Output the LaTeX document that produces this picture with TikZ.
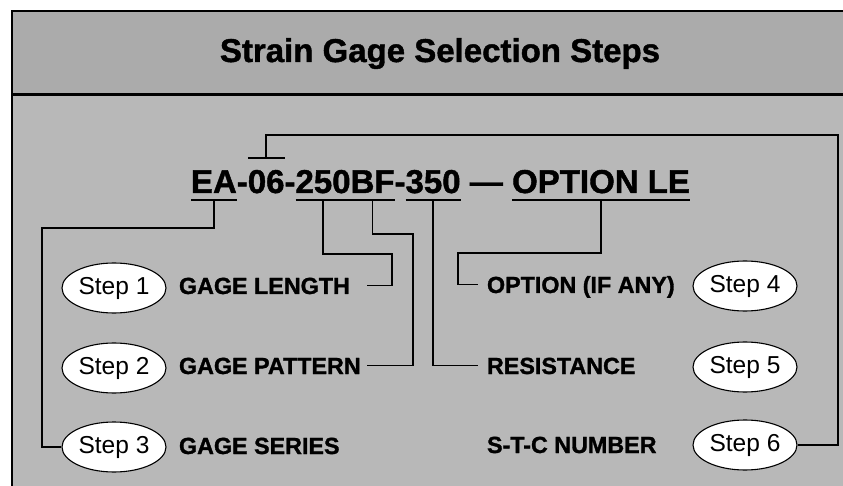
\documentclass[tikz,border=0pt]{standalone}
\usepackage{fontspec}
\setmainfont{Liberation Sans}
\newfontfamily\heavyfont{Liberation Sans}[BoldFeatures={FakeBold=1.3}]
\usetikzlibrary{shapes.geometric}
\definecolor{hdr}{HTML}{ABABAB}
\definecolor{bdy}{HTML}{B8B8B8}
\begin{document}
\begin{tikzpicture}[x=1pt,y=-1pt,
  codeseg/.style={font=\heavyfont\fontsize{33}{38}\selectfont\bfseries, inner sep=0pt, outer sep=0pt, anchor=base west},
  lbl/.style={font=\heavyfont\fontsize{23.3}{28}\selectfont\bfseries, inner sep=0pt, outer sep=0pt, anchor=base west},
  stepbox/.style={ellipse, draw, fill=white, line width=1.1pt, minimum width=104pt, minimum height=50pt, inner sep=0pt, font=\fontsize{24.5}{28}\selectfont},
  conn/.style={line width=1.8pt},
  uline/.style={line width=2.5pt}]
\useasboundingbox (0,0) rectangle (843,486);
\clip (0,0) rectangle (843,486);
\fill[white] (0,0) rectangle (843,486);
\fill[bdy] (12,11) rectangle (860,500);
\fill[hdr] (12,11) rectangle (860,95);
\draw[line width=2pt] (12,500) -- (12,11) -- (860,11);
\draw[line width=3pt] (12,95) -- (860,95);
\node[font=\heavyfont\fontsize{33}{40}\selectfont\bfseries, inner sep=0pt, anchor=base] (title) at (440,62) {Strain Gage Selection Steps};

% code string
\node[codeseg] (ea) at (191,193) {EA};
\node[codeseg] (h1) at (ea.base east) {-};
\node[codeseg] (o6) at (h1.base east) {06};
\node[codeseg] (h2) at (o6.base east) {-};
\node[codeseg] (n250) at (h2.base east) {250};
\node[codeseg] (bf) at (n250.base east) {BF};
\node[codeseg] (h3) at (bf.base east) {-};
\node[codeseg] (n350) at (h3.base east) {350};
\node[codeseg] (dash) at (n350.base east) {\kern.28em—\kern.28em};
\node[codeseg] (opt) at (dash.base east) {OPTION LE};

% underlines / overline
\foreach \n in {ea,n250,bf,n350,opt}{
  \draw[uline] ([yshift=-7pt]\n.base west) -- ([yshift=-7pt]\n.base east);
  \coordinate (u\n) at ([yshift=-7pt]\n.base);
}
\draw[uline] ([yshift=35pt]o6.base west) -- ([yshift=35pt]o6.base east);
\coordinate (uo6) at ([yshift=35pt]o6.base);

% labels
\node[lbl] (len) at (179,294) {GAGE LENGTH};
\node[lbl] (pat) at (179,374) {GAGE PATTERN};
\node[lbl] (ser) at (179,454) {GAGE SERIES};
\node[lbl] (opn) at (487,293) {OPTION (IF ANY)};
\node[lbl] (res) at (487,374) {RESISTANCE};
\node[lbl] (stc) at (487,453) {S-T-C NUMBER};

% steps
\node[stepbox] (s1) at (114,288) {Step 1};
\node[stepbox] (s2) at (114,368) {Step 2};
\node[stepbox] (s3) at (114,447) {Step 3};
\node[stepbox] (s4) at (745,286) {Step 4};
\node[stepbox] (s5) at (745,367) {Step 5};
\node[stepbox] (s6) at (745,445) {Step 6};

% connector ends near labels
\coordinate (cl1) at ([xshift=17pt,yshift=8.5pt]len.base east);
\coordinate (cl2) at ([xshift=6pt,yshift=8.5pt]pat.base east);
\coordinate (cr4) at ([xshift=-9pt,yshift=8.5pt]opn.base west);
\coordinate (cr5) at ([xshift=-9pt,yshift=8.5pt]res.base west);

% connectors
\draw[conn] (uea) |- (42,228) |- (s3.west);
\draw[conn] (un250) |- (392,254) |- (cl1);
\draw[conn] (ubf) |- (413,234) |- (cl2);
\draw[conn] (un350) |- (cr5);
\draw[conn] (uopt) |- (458,253) |- (cr4);
\draw[conn] (uo6) |- (838,135) |- (s6.east);
\end{tikzpicture}
\end{document}
